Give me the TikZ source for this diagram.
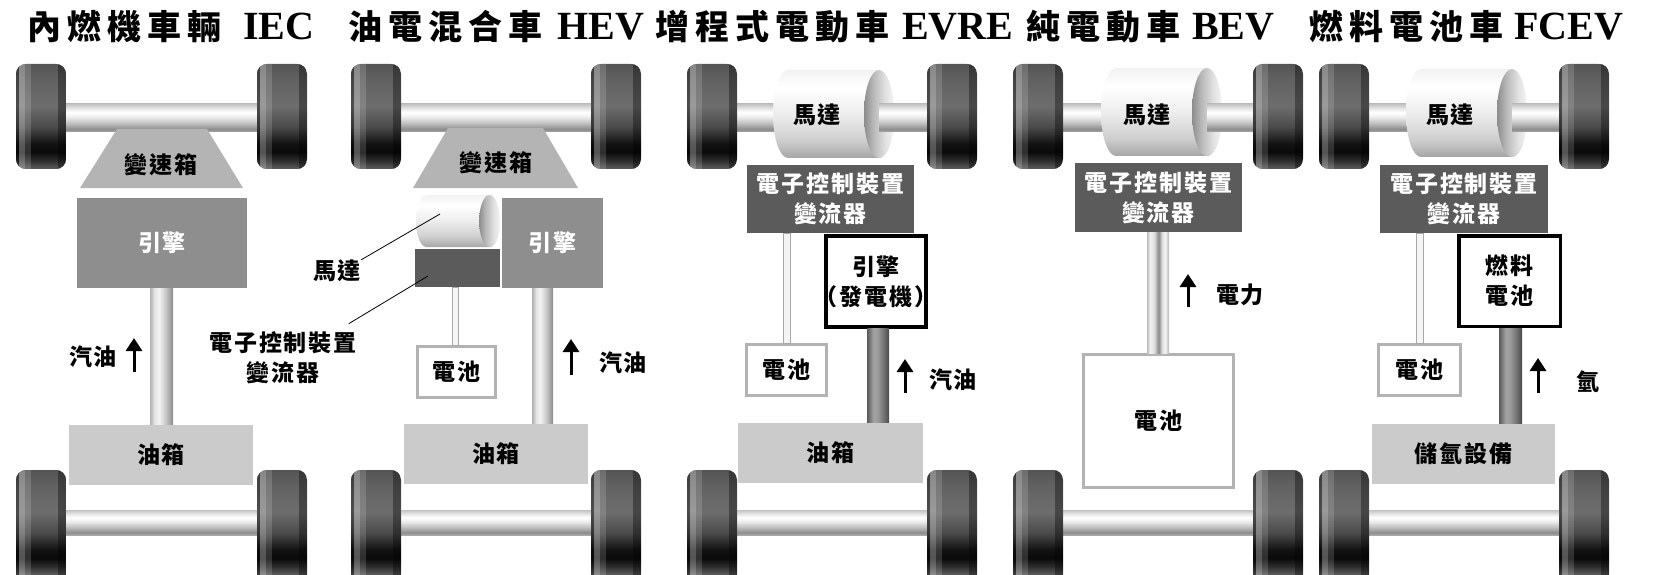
\documentclass[tikz,border=0pt]{standalone}
\usepackage{fontspec}
\usepackage{tikz}
\usetikzlibrary{arrows.meta}

\newfontfamily\headcjk{Noto Sans CJK TC}[LetterSpace=18]
\newfontfamily\boxcjk{Noto Sans CJK TC}[LetterSpace=8]
\newfontfamily\headlatin{Liberation Serif}

\definecolor{gearfill}{HTML}{B4B4B4}
\definecolor{enginefill}{HTML}{8E8E8E}
\definecolor{tankfill}{HTML}{CBCBCB}
\definecolor{ecufill}{HTML}{5B5B5B}
\definecolor{battline}{HTML}{B3B3B3}
\definecolor{cableline}{HTML}{A8A8A8}

% shadings: the part between 25bp and 75bp covers the shaded path
\pgfdeclareverticalshading{tyreshade}{100bp}{color(0bp)=(black!63); color(25bp)=(black!63); color(29bp)=(black!82); color(33bp)=(black!96); color(37bp)=(black!93); color(45bp)=(black!71); color(55bp)=(black!57); color(68bp)=(black!62); color(75bp)=(black!67); color(100bp)=(black!67)}
\pgfdeclareverticalshading{rod}{100bp}{color(0bp)=(black!34); color(25bp)=(black!34); color(30bp)=(black!45); color(40bp)=(black!26); color(52bp)=(black!7); color(60bp)=(white); color(68bp)=(black!11); color(75bp)=(black!24); color(100bp)=(black!24)}
\pgfdeclarehorizontalshading{shaftlight}{100bp}{color(0bp)=(black!31); color(25bp)=(black!31); color(35bp)=(black!10); color(45bp)=(black!5); color(60bp)=(black!23); color(75bp)=(black!46); color(100bp)=(black!46)}
\pgfdeclarehorizontalshading{shaftdark}{100bp}{color(0bp)=(black!65); color(25bp)=(black!65); color(40bp)=(black!36); color(50bp)=(black!40); color(65bp)=(black!58); color(75bp)=(black!71); color(100bp)=(black!71)}
\pgfdeclarehorizontalshading{shafttwin}{100bp}{color(0bp)=(black!26); color(25bp)=(black!26); color(32bp)=(black!5); color(42bp)=(black!14); color(48bp)=(black!37); color(53bp)=(black!44); color(58bp)=(black!15); color(66bp)=(black!4); color(75bp)=(black!29); color(100bp)=(black!29)}
\pgfdeclareverticalshading{motorbody}{100bp}{color(0bp)=(black!35); color(25bp)=(black!35); color(35bp)=(black!19); color(50bp)=(black!7); color(65bp)=(white); color(75bp)=(black!5); color(100bp)=(black!5)}
\pgfdeclarehorizontalshading{motorface}{100bp}{color(0bp)=(black!45); color(25bp)=(black!45); color(40bp)=(black!28); color(60bp)=(black!12); color(75bp)=(black!4); color(100bp)=(black!4)}

\tikzset{
  pics/tyre/.style={code={
    \begin{scope}
      \clip[rounded corners=10pt] (0,0) rectangle (50,#1);
      \fill[black!63] (0,0) rectangle (50,#1);
      \shade[shading=tyreshade] (0,0) rectangle (50,105);
      \fill[black, opacity=.3] (0,0) rectangle (3,#1);
      \fill[white, opacity=.3] (3,0) rectangle (9,#1);
      \fill[white, opacity=.15] (9,0) rectangle (15,#1);
      \fill[black, opacity=.35] (42,0) rectangle (50,#1);
    \end{scope}
  }},
  pics/motor/.style={code={
    \shade[shading=motorbody] (15,0) -- (106,0) arc[start angle=-90, end angle=90, x radius=15, y radius=44]
      -- (15,88) arc[start angle=90, end angle=270, x radius=15, y radius=44] -- cycle;
    \shade[shading=motorface] (106,44) ellipse[x radius=15, y radius=44];
  }}
}

\begin{document}
\begin{tikzpicture}[x=1pt, y=-1pt,
    every node/.style={inner sep=0pt},
    head/.style={anchor=base west, font=\headcjk\bfseries\fontsize{34}{40}\selectfont},
    latin/.style={font=\headlatin\bfseries\fontsize{40}{40}\selectfont},
    tag/.style={font=\boxcjk\bfseries\fontsize{23}{30}\selectfont},
    engine/.style={tag, fill=enginefill, text=white, minimum height=90pt},
    tank/.style={tag, fill=tankfill, minimum height=60pt},
    ecu/.style={tag, fill=ecufill, text=white, align=center},
    battery/.style={tag, fill=white, draw=battline, line width=3pt},
    source/.style={tag, fill=white, draw=black, line width=3.5pt, align=center},
    shaft/.style={shading=shaftlight},
    darkshaft/.style={shading=shaftdark},
    cable/.style={fill=black!4, draw=cableline, line width=1pt},
    leader/.style={draw=black, line width=0.8pt},
    flow/.style={-{Triangle[width=16pt,length=13pt]}, line width=3pt}]
  \useasboundingbox (0,0) rectangle (1655,575);

  % headings
  \node[head] (tIEC) at (27,40) {內燃機車輛};
  \node[latin, anchor=base west] (lIEC) at (243,40) {IEC};
  \node[head] (tHEV) at (348,40) {油電混合車};
  \node[latin, anchor=base west] (lHEV) at (557,40) {HEV};
  \node[head] (tEVRE) at (655,40) {增程式電動車};
  \node[latin, anchor=base west] (lEVRE) at (902,40) {EVRE};
  \node[head] (tBEV) at (1026,40) {純電動車};
  \node[latin, anchor=base west] (lBEV) at (1192,40) {BEV};
  \node[head] (tFCEV) at (1309,40) {燃料電池車};
  \node[latin, anchor=base west] (lFCEV) at (1514,40) {FCEV};

  % axles
  \shade[shading=rod] (41,104) rectangle (282,132);
  \shade[shading=rod] (41,510) rectangle (282,535);
  \shade[shading=rod] (376,104) rectangle (616,132);
  \shade[shading=rod] (376,510) rectangle (616,535);
  \shade[shading=rod] (712,104) rectangle (952,132);
  \shade[shading=rod] (712,510) rectangle (952,535);
  \shade[shading=rod] (1038,104) rectangle (1278,132);
  \shade[shading=rod] (1038,510) rectangle (1278,535);
  \shade[shading=rod] (1344,104) rectangle (1584,132);
  \shade[shading=rod] (1344,510) rectangle (1584,535);

  % gearboxes
  \fill[gearfill] (117,129) -- (207,129) -- (243,188) -- (80,188) -- cycle;
  \fill[gearfill] (448,128) -- (543,128) -- (578,188) -- (413,188) -- cycle;

  % motors
  \pic[xscale=0.694, yscale=0.591] at (416,195) {motor};
  \pic at (773,70) {motor};
  \shade[shading=rod] (879,104) rectangle (952,132);
  \pic at (1101,68) {motor};
  \shade[shading=rod] (1207,104) rectangle (1278,132);
  \pic at (1406,69) {motor};
  \shade[shading=rod] (1512,104) rectangle (1584,132);

  % wheels
  \pic at (16,64) {tyre=105};
  \pic at (257,64) {tyre=105};
  \pic at (16,470) {tyre=115};
  \pic at (257,470) {tyre=115};
  \pic at (351,64) {tyre=105};
  \pic at (591,64) {tyre=105};
  \pic at (351,470) {tyre=115};
  \pic at (591,470) {tyre=115};
  \pic at (687,64) {tyre=105};
  \pic at (927,64) {tyre=105};
  \pic at (687,470) {tyre=115};
  \pic at (927,470) {tyre=115};
  \pic at (1013,64) {tyre=105};
  \pic at (1253,64) {tyre=105};
  \pic at (1013,470) {tyre=115};
  \pic at (1253,470) {tyre=115};
  \pic at (1319,64) {tyre=105};
  \pic at (1559,64) {tyre=105};
  \pic at (1319,470) {tyre=115};
  \pic at (1559,470) {tyre=115};

  % IEC
  \node[tag] (gb1) at (161,165) {變速箱};
  \node[engine, minimum width=170pt] (eng1) at (162,243) {引擎};
  \node[tank, minimum width=184pt] (tank1) at (161,455) {油箱};
  \shade[shaft] (150,0 |- eng1.south) rectangle (173,0 |- tank1.north);
  \node[tag] (fuel1) at (93,357) {汽油};
  \draw[flow] (134,372) -- (134,338);

  % HEV
  \node[tag] (gb2) at (496,163) {變速箱};
  \node[ecu, minimum width=85pt, minimum height=38pt] (ecu2) at (457.5,268) {};
  \node[engine, minimum width=101pt] (eng2) at (552.5,243) {引擎};
  \node[battery, minimum width=78pt, minimum height=51pt] (bat2) at (456.5,372) {電池};
  \node[tank, minimum width=184pt] (tank2) at (496,453.5) {油箱};
  \filldraw[cable] (452,0 |- ecu2.south) rectangle (458,0 |- bat2.north);
  \shade[shaft] (532,0 |- eng2.south) rectangle (553,0 |- tank2.north);
  \node[tag] (fuel2) at (623,363) {汽油};
  \draw[flow] (571,375) -- (571,339);
  \node[tag] (lblmotor2) at (337,271) {馬達};
  \node[tag, align=center] (lblecu2) at (283,358) {電子控制裝置\\變流器};
  \coordinate (motorpt2) at (440,214);
  \coordinate (ecupt2) at (428,276);
  \draw[leader] (lblmotor2.north east) -- (motorpt2);
  \draw[leader] ([shift={(-8,-8)}]lblecu2.north east) -- (ecupt2);

  % EVRE
  \node[tag] (mot3) at (817,115) {馬達};
  \node[ecu, minimum width=167pt, minimum height=68pt] (ecu3) at (830.5,199) {電子控制裝置\\變流器};
  \node[source, minimum width=100pt, minimum height=91pt] (gen3) at (876,281.5) {引擎\\\makebox[0pt]{（發電機）}};
  \node[battery, minimum width=80pt, minimum height=51pt] (bat3) at (786.5,370) {電池};
  \node[tank, minimum width=185pt] (tank3) at (830.5,452.5) {油箱};
  \filldraw[cable] (783,0 |- ecu3.south) rectangle (790,0 |- bat3.north);
  \shade[darkshaft] (867,0 |- gen3.south) rectangle (889,0 |- tank3.north);
  \node[tag] (fuel3) at (953,380) {汽油};
  \draw[flow] (905,393) -- (905,359);

  % BEV
  \node[tag] (mot4) at (1147,115) {馬達};
  \node[ecu, minimum width=167pt, minimum height=69pt] (ecu4) at (1158.5,197.5) {電子控制裝置\\變流器};
  \node[battery, minimum width=150pt, minimum height=133pt] (bat4) at (1158.5,421) {電池};
  \shade[shading=shafttwin] (1147,0 |- ecu4.south) rectangle (1169,0 |- bat4.north);
  \node[tag] (power4) at (1240,295) {電力};
  \draw[flow] (1188,307) -- (1188,274);

  % FCEV
  \node[tag] (mot5) at (1450,115) {馬達};
  \node[ecu, minimum width=168pt, minimum height=68pt] (ecu5) at (1464,199) {電子控制裝置\\變流器};
  \node[source, minimum width=101.5pt, minimum height=90.5pt] (fc5) at (1509.5,281) {燃料\\電池};
  \node[battery, minimum width=82pt, minimum height=51pt] (bat5) at (1419.5,370) {電池};
  \node[tank, minimum width=183pt] (store5) at (1463.5,454) {儲氫設備};
  \filldraw[cable] (1416,0 |- ecu5.south) rectangle (1423,0 |- bat5.north);
  \shade[darkshaft] (1499,0 |- fc5.south) rectangle (1522,0 |- store5.north);
  \node[tag] (hydro5) at (1588,382) {氫};
  \draw[flow] (1538,393) -- (1538,358);
\end{tikzpicture}
\end{document}
